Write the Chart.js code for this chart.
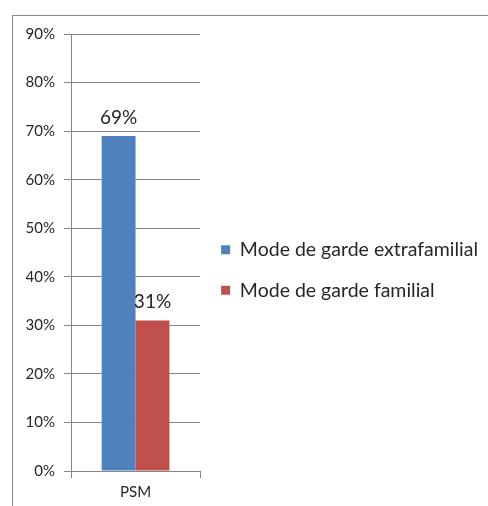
<!DOCTYPE html>
<html>
<head>
<meta charset="utf-8">
<script src="https://cdn.jsdelivr.net/npm/chart.js@4"></script>
<style>
    html, body { margin: 0; padding: 0; background: #fff; }
    #wrap { width: 488px; height: 506px; }
</style>
</head>
<body>
<div id="wrap"><canvas id="gardeChart" width="488" height="506"></canvas></div>
<script>
const categories = ['PSM'];
const seriesNames = ['Mode de garde extrafamilial', 'Mode de garde familial'];
const extrafamilial = [0.69];
const familial = [0.31];
const yTicks = [0, 0.1, 0.2, 0.3, 0.4, 0.5, 0.6, 0.7, 0.8, 0.9];

const gridColor = '#868686';
const textColor = '#262626';

// cadre gris autour du graphique
const framePlugin = {
    id: 'frame',
    beforeDraw(chart) {
        const ctx = chart.ctx;
        ctx.save();
        ctx.strokeStyle = '#8a8a8a';
        ctx.lineWidth = 1;
        ctx.strokeRect(12.5, 15.5, 600, 600);
        ctx.restore();
    }
};

// étiquettes de valeur au-dessus des barres
const valueLabels = {
    id: 'valueLabels',
    afterDatasetsDraw(chart) {
        const ctx = chart.ctx;
        ctx.save();
        ctx.font = '19px Lato';
        ctx.fillStyle = textColor;
        ctx.textAlign = 'center';
        ctx.textBaseline = 'alphabetic';
        chart.data.datasets.forEach((ds, i) => {
            chart.getDatasetMeta(i).data.forEach((bar, j) => {
                const v = Math.round(ds.data[j] * 100) + '%';
                ctx.fillText(v, bar.x, bar.y - 12);
            });
        });
        ctx.restore();
    }
};

new Chart(document.getElementById('gardeChart'), {
    type: 'bar',
    data: {
        labels: categories,
        datasets: [{
            label: seriesNames[0],
            data: extrafamilial,
            backgroundColor: '#4F81BD'
        }, {
            label: seriesNames[1],
            data: familial,
            backgroundColor: '#C0504D'
        }]
    },
    options: {
        responsive: false,
        animation: false,
        devicePixelRatio: 1,
        categoryPercentage: 0.525,
        barPercentage: 1,
        layout: { padding: { top: 34, left: 0, right: 0, bottom: 0 } },
        plugins: {
            tooltip: { enabled: false },
            legend: {
                position: 'right',
                maxWidth: 400,
                labels: {
                    boxWidth: 9,
                    boxHeight: 9,
                    padding: 21,
                    color: textColor,
                    font: { family: 'Lato', size: 19.5 }
                }
            }
        },
        scales: {
            x: {
                afterFit: scale => { scale.height = 35; },
                grid: {
                    drawOnChartArea: false,
                    color: gridColor,
                    tickLength: 7,
                    offset: true
                },
                border: { color: gridColor },
                ticks: {
                    color: textColor,
                    padding: 5,
                    font: { family: 'Lato', size: 15 }
                }
            },
            y: {
                min: 0,
                max: 0.9,
                afterFit: scale => { scale.width = 71; },
                afterBuildTicks: scale => {
                    scale.ticks = yTicks.map(v => ({ value: v }));
                },
                grid: {
                    color: gridColor,
                    tickLength: 7
                },
                border: { color: gridColor },
                ticks: {
                    color: textColor,
                    padding: 9,
                    font: { family: 'Lato', size: 15 },
                    callback: v => Math.round(v * 100) + '%'
                }
            }
        }
    },
    plugins: [framePlugin, valueLabels]
});
</script>
</body>
</html>
